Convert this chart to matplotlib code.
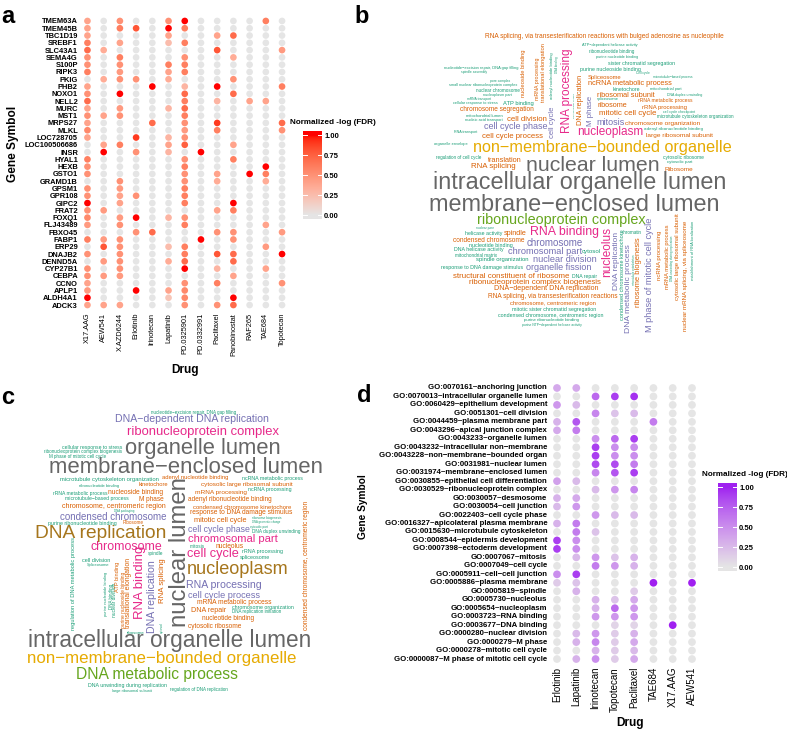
import numpy as np
import matplotlib
matplotlib.use('Agg')
import matplotlib.pyplot as plt
from matplotlib.colors import ListedColormap
from matplotlib.transforms import Bbox

plt.rcParams['font.family'] = ['Liberation Sans', 'DejaVu Sans']

# ---------------- DATA ----------------
drugs_a = ['X17.AAG', 'AEW541', 'X.AZD6244', 'Erlotinib', 'Irinotecan', 'Lapatinib',
           'PD.0325901', 'PD.0332991', 'Paclitaxel', 'Panobinostat', 'RAF265', 'TAE684', 'Topotecan']
genes_a = ['TMEM63A', 'TMEM45B', 'TBC1D19', 'SREBF1', 'SLC43A1', 'SEMA4G', 'S100P', 'RIPK3', 'PKIG',
           'PHB2', 'NOXO1', 'NELL2', 'MURC', 'MST1', 'MRPS27', 'MLKL', 'LOC728705', 'LOC100506686',
           'INSR', 'HYAL1', 'HEXB', 'GSTO1', 'GRAMD1B', 'GPSM1', 'GPR108', 'GIPC2', 'FRAT2', 'FOXQ1',
           'FLJ43489', 'FBXO45', 'FABP1', 'ERP29', 'DNAJB2', 'DENND5A', 'CYP27B1', 'CEBPA', 'CCNO',
           'APLP1', 'ALDH4A1', 'ADCK3']
values_a = [
    [.40, 0, .50, 0, 0, .50, 1.0, 0, 0, 0, 0, .60, 0],
    [.40, 0, .60, .80, 0, 1.0, .60, 0, 0, 0, 0, 0, 0],
    [.40, 0, 0, 0, 0, .40, 0, 0, .40, .70, 0, 0, 0],
    [.60, 0, .40, 0, 0, .25, .60, 0, 0, 0, 0, 0, 0],
    [.70, .35, 0, 0, 0, 0, 0, 0, .80, 0, 0, 0, .45],
    [.50, 0, .60, 0, 0, 0, .50, 0, 0, .35, 0, 0, 0],
    [.50, 0, .50, 0, 0, .60, .60, 0, 0, 0, 0, 0, 0],
    [.60, 0, .45, 0, 0, .40, .60, 0, 0, 0, 0, 0, 0],
    [0, .35, .50, .50, 0, .35, 0, 0, 0, .50, 0, 0, 0],
    [.40, 0, 0, 0, 1.0, 0, .30, 0, 1.0, 0, 0, 0, .60],
    [.50, 0, 1.0, 0, 0, 0, .70, 0, 0, .70, 0, 0, 0],
    [.70, 0, 0, 0, 0, 0, .60, 0, .30, 0, .40, .40, 0],
    [.40, 0, .45, 0, 0, .30, .70, 0, 0, 0, 0, 0, 0],
    [.50, .40, .50, 0, 0, 0, .60, 0, 0, 0, 0, 0, 0],
    [.40, 0, 0, 0, .70, 0, .50, 0, .90, 0, 0, 0, .70],
    [.55, 0, 0, 0, 0, 0, .45, 0, .60, 0, 0, 0, .50],
    [.40, 0, 0, .90, 0, .30, .50, 0, 0, 0, 0, 0, 0],
    [0, .40, .60, 0, 0, .40, .75, 0, 0, .40, 0, 0, 0],
    [0, 1.0, 0, .50, 0, .30, 0, 1.0, 0, 0, 0, 0, 0],
    [.60, 0, 0, 0, 0, 0, .50, 0, 0, .60, 0, 0, 0],
    [.50, 0, 0, 0, 0, 0, .60, 0, 0, 0, 0, 1.0, 0],
    [.50, 0, 0, 0, 0, 0, .50, 0, .40, 0, 1.0, .60, 0],
    [0, 0, .50, 0, 0, 0, .50, 0, .35, 0, 0, .35, 0],
    [.50, 0, .45, 0, 0, 0, .60, 0, 0, 0, 0, 0, 0],
    [.50, 0, .40, .50, 0, 0, .60, 0, 0, 0, 0, 0, 0],
    [1.0, 0, .40, 0, 0, 0, .60, 0, 0, 1.0, 0, 0, 0],
    [.50, .45, 0, 0, 0, 0, 0, 0, .40, .60, 0, 0, 0],
    [.55, 0, .45, 1.0, 0, .30, .50, 0, 0, 0, 0, 0, 0],
    [.45, 0, .50, 0, 0, 0, .60, 0, 0, 0, 0, .40, 0],
    [0, 0, 0, .50, .70, 0, 0, 0, .50, .50, 0, 0, .45],
    [.60, .45, .50, 0, 0, 0, 0, 1.0, 0, .50, 0, 0, 0],
    [0, .80, .50, 0, 0, .25, .60, 0, 0, 0, 0, .45, 0],
    [.50, 0, .50, 0, 0, 0, .60, 0, .80, .70, 0, 0, 1.0],
    [0, .45, .50, 0, 0, .35, .70, 0, 0, .70, 0, 0, 0],
    [.50, 0, .50, 0, 0, 0, 1.0, 0, .30, 0, 0, .40, 0],
    [.50, .45, .45, 0, 0, 0, 0, 0, 0, .40, 0, 0, 0],
    [.40, 0, 0, 0, 0, 0, .50, 0, .60, 0, 0, 0, .50],
    [.45, 0, 0, 1.0, 0, .40, .55, 0, 0, 0, 0, 0, 0],
    [1.0, 0, 0, 0, 0, .20, .55, 0, 0, 1.0, 0, 0, 0],
    [.40, .40, .40, 0, 0, 0, .50, 0, .50, .70, 0, 0, 0],
]

drugs_d = ['Erlotinib', 'Lapatinib', 'Irinotecan', 'Topotecan', 'Paclitaxel', 'TAE684', 'X17.AAG', 'AEW541']
terms_d = ['GO:0070161~anchoring junction', 'GO:0070013~intracellular organelle lumen',
           'GO:0060429~epithelium development', 'GO:0051301~cell division',
           'GO:0044459~plasma membrane part', 'GO:0043296~apical junction complex',
           'GO:0043233~organelle lumen', 'GO:0043232~intracellular non\u2212membrane',
           'GO:0043228~non\u2212membrane\u2212bounded organ', 'GO:0031981~nuclear lumen',
           'GO:0031974~membrane\u2212enclosed lumen', 'GO:0030855~epithelial cell differentiation',
           'GO:0030529~ribonucleoprotein complex', 'GO:0030057~desmosome', 'GO:0030054~cell junction',
           'GO:0022403~cell cycle phase', 'GO:0016327~apicolateral plasma membrane',
           'GO:0015630~microtubule cytoskeleton', 'GO:0008544~epidermis development',
           'GO:0007398~ectoderm development', 'GO:0007067~mitosis', 'GO:0007049~cell cycle',
           'GO:0005911~cell\u2212cell junction', 'GO:0005886~plasma membrane', 'GO:0005819~spindle',
           'GO:0005730~nucleolus', 'GO:0005654~nucleoplasm', 'GO:0003723~RNA binding',
           'GO:0003677~DNA binding', 'GO:0000280~nuclear division', 'GO:0000279~M phase',
           'GO:0000278~mitotic cell cycle', 'GO:0000087~M phase of mitotic cell cycle']
values_d = [
    [.35, .35, 0, 0, 0, 0, 0, 0],
    [0, 0, .70, .90, .95, 0, 0, 0],
    [.45, .25, 0, 0, 0, 0, 0, 0],
    [0, 0, .55, .20, .25, 0, 0, 0],
    [.30, .80, 0, 0, 0, .60, 0, 0],
    [.35, .60, 0, 0, 0, 0, 0, 0],
    [0, 0, .50, .70, .90, 0, 0, 0],
    [0, 0, .90, .50, .50, 0, 0, 0],
    [0, 0, .90, .50, .50, 0, 0, 0],
    [0, 0, .85, .85, .60, 0, 0, 0],
    [0, 0, .55, .80, .90, 0, 0, 0],
    [.40, .25, 0, 0, 0, 0, 0, 0],
    [0, 0, .25, .45, .55, 0, 0, 0],
    [.30, .35, 0, 0, 0, 0, 0, 0],
    [.25, .45, 0, 0, 0, 0, 0, 0],
    [0, 0, .45, .25, .25, 0, 0, 0],
    [.30, .60, 0, 0, 0, 0, 0, 0],
    [0, .60, .20, 0, 0, 0, 0, 0],
    [.90, .50, 0, 0, 0, 0, 0, 0],
    [.90, .50, 0, 0, 0, 0, 0, 0],
    [0, .25, .45, .20, .30, 0, 0, 0],
    [0, 0, .60, .45, .30, 0, 0, 0],
    [.50, .90, 0, 0, 0, 0, 0, 0],
    [.15, .20, 0, 0, 0, 1.0, 0, 1.0],
    [0, .30, 0, 0, .15, 0, 0, 0],
    [0, 0, .30, .20, .35, 0, 0, 0],
    [0, 0, .30, .70, .45, 0, 0, 0],
    [0, 0, .45, .45, .45, 0, 0, 0],
    [0, 0, 0, .10, .10, 0, 1.0, 0],
    [0, .25, .45, .15, .30, 0, 0, 0],
    [0, .30, .55, .15, .35, 0, 0, 0],
    [0, 0, .30, .15, .25, 0, 0, 0],
    [0, .30, .50, .15, .35, 0, 0, 0],
]
cbar_ticks = [0.0, 0.25, 0.5, 0.75, 1.0]

M_ = '\u2212'
# word cloud b: words and colour groups
b_words = [
    'RNA splicing, via transesterification reactions with bulged adenosine as nucleophile',
    'ATP' + M_ + 'dependent helicase activity', 'ribonucleotide binding', 'purine nucleotide binding',
    'sister chromatid segregation', 'purine nucleoside binding', 'Cell cycle',
    'microtubule' + M_ + 'based process', 'Spliceosome', 'ncRNA metabolic process', 'kinetochore',
    'mitochondrial part', 'ribosomal subunit', 'DNA duplex unwinding', 'spliceosome',
    'rRNA metabolic process', 'ribosome', 'rRNA processing', 'mitotic cell cycle',
    'cell cycle checkpoint', 'microtubule cytoskeleton organization', 'mitosis',
    'chromosome organization', 'adenyl ribonucleotide binding', 'large ribosomal subunit',
    'nucleoplasm', 'M phase', 'DNA replication', 'DNA geometric change', 'RNA processing',
    'cell cycle', 'adenyl nucleotide binding', 'DNA binding', 'mRNA processing',
    'translational elongation', 'nucleoside binding', 'nucleotide' + M_ + 'excision repair, DNA gap filling',
    'spindle assembly', 'pore complex', 'small nuclear ribonucleoprotein complex', 'nuclear chromosome',
    'nucleoplasm part', 'mRNA transport', 'cellular response to stress', 'ATP binding',
    'chromosome segregation', 'mitochondrial lumen', 'nucleic acid transport', 'cell division',
    'cell cycle phase', 'RNA transport', 'cell cycle process', 'organelle envelope',
    'non' + M_ + 'membrane' + M_ + 'bounded organelle', 'regulation of cell cycle', 'translation',
    'RNA splicing', 'nuclear lumen', 'cytosolic ribosome', 'cytosolic part', 'Ribosome',
    'intracellular organelle lumen', 'membrane' + M_ + 'enclosed lumen', 'ribonucleoprotein complex',
    'nuclear pore', 'helicase activity', 'spindle', 'RNA binding', 'condensed chromosome',
    'nucleotide binding', 'DNA helicase activity', 'chromosome', 'mitochondrial matrix',
    'chromosomal part', 'cytosol', 'spindle organization', 'nuclear division',
    'response to DNA damage stimulus', 'organelle fission', 'nucleolus',
    'structural constituent of ribosome', 'DNA repair', 'ribonucleoprotein complex biogenesis',
    'DNA' + M_ + 'dependent DNA replication', 'RNA splicing, via transesterification reactions',
    'chromosome, centromeric region', 'mitotic sister chromatid segregation',
    'condensed chromosome, centromeric region', 'purine ribonucleotide binding',
    'purine NTP' + M_ + 'dependent helicase activity', 'DNA replication',
    'condensed chromosome kinetochore', 'DNA metabolic process', 'microtubule cytoskeleton',
    'ribosome biogenesis', 'M phase of mitotic cell cycle', 'ncRNA processing',
    'mRNA metabolic process', 'DNA unwinding during replication', 'cytosolic large ribosomal subunit',
    'nuclear mRNA splicing, via spliceosome', 'establishment of RNA localization', 'chromatin']
b_groups = ['O', 'T', 'T', 'T', 'T', 'T', 'T', 'T', 'O', 'O', 'T', 'T', 'O', 'T', 'T', 'O', 'O', 'O', 'O',
            'T', 'T', 'P', 'O', 'T', 'O', 'K', 'P', 'O', 'T', 'K', 'P', 'T', 'T', 'O', 'O', 'O', 'T', 'T',
            'T', 'T', 'T', 'T', 'T', 'T', 'T', 'O', 'T', 'T', 'O', 'P', 'T', 'O', 'T', 'Y', 'T', 'O', 'O',
            'R', 'T', 'T', 'O', 'R', 'R', 'G', 'T', 'T', 'O', 'K', 'O', 'T', 'T', 'P', 'T', 'P', 'T', 'T',
            'P', 'T', 'P', 'K', 'O', 'T', 'O', 'O', 'O', 'O', 'T', 'T', 'T', 'T', 'P', 'T', 'P', 'T', 'O',
            'P', 'O', 'O', 'T', 'O', 'O', 'T', 'T']

# word cloud c: words and colour groups
c_words = [
    'nucleotide' + M_ + 'excision repair, DNA gap filling', 'DNA' + M_ + 'dependent DNA replication',
    'ribonucleoprotein complex', 'cellular response to stress', 'ribonucleoprotein complex biogenesis',
    'M phase of mitotic cell cycle', 'organelle lumen', 'membrane' + M_ + 'enclosed lumen',
    'adenyl nucleotide binding', 'microtubule cytoskeleton organization', 'kinetochore',
    'ribonucleotide binding', 'ncRNA metabolic process', 'cytosolic large ribosomal subunit',
    'rRNA metabolic process', 'nucleoside binding', 'mRNA processing', 'ncRNA processing',
    'microtubule' + M_ + 'based process', 'M phase', 'adenyl ribonucleotide binding',
    'chromosome, centromeric region', 'DNA packaging', 'condensed chromosome kinetochore',
    'response to DNA damage stimulus', 'condensed chromosome', 'purine ribonucleotide binding',
    'Ribosome', 'mitotic cell cycle', 'ribosome biogenesis', 'DNA geometric change', 'cytosolic part',
    'DNA duplex unwinding', 'cell cycle phase', 'DNA replication', 'chromosomal part', 'nuclear lumen',
    'mitosis', 'nucleolus', 'chromosome', 'cell cycle', 'rRNA processing', 'spliceosome', 'spindle',
    'nucleoplasm', 'RNA processing', 'cell cycle process', 'mRNA metabolic process',
    'chromosome organization', 'DNA replication initiation', 'DNA repair', 'nucleotide binding',
    'cytosolic ribosome', 'condensed chromosome, centromeric region', 'intracellular organelle lumen',
    'non' + M_ + 'membrane' + M_ + 'bounded organelle', 'DNA metabolic process',
    'DNA unwinding during replication', 'large ribosomal subunit', 'regulation of DNA replication',
    'cell division', 'Spliceosome', 'regulation of DNA metabolic process', 'purine nucleotide binding',
    'DNA binding', 'nuclear division', 'ATP binding', 'purine nucleoside binding',
    'translational elongation', 'RNA binding', 'ribosome', 'DNA replication', 'RNA splicing', 'cytosol']
c_groups = ['T', 'P', 'K', 'T', 'T', 'T', 'R', 'R', 'O', 'T', 'O', 'T', 'T', 'O', 'T', 'O', 'O', 'T', 'T',
            'O', 'O', 'O', 'T', 'O', 'O', 'P', 'T', 'O', 'O', 'T', 'T', 'T', 'T', 'P', 'B', 'K', 'R', 'T',
            'O', 'K', 'K', 'T', 'T', 'T', 'B', 'P', 'P', 'O', 'T', 'T', 'O', 'O', 'O', 'O', 'R', 'Y', 'G',
            'T', 'T', 'T', 'T', 'T', 'T', 'T', 'T', 'T', 'O', 'O', 'O', 'K', 'T', 'P', 'O', 'T']

# ---------------- STYLE / LAYOUT ----------------
palette = {'T': '#1B9E77', 'O': '#D95F02', 'P': '#7570B3', 'K': '#E7298A',
           'G': '#66A61E', 'Y': '#E6AB02', 'B': '#A6761D', 'R': '#666666'}

# (center x px, center y px, length px, rotation)
b_layout = [
    (604, 36, 242, 0), (610, 45, 56, 0), (612, 51, 45, 0), (617, 57, 42, 0), (642, 63, 66, 0),
    (610, 69, 60, 0), (643, 73, 14, 0), (673, 77, 40, 0), (605, 77, 34, 0), (630, 83, 84, 0),
    (626, 89, 27, 0), (666, 89, 32, 0), (626, 95, 58, 0), (685, 95, 36, 0), (608, 99, 22, 0),
    (665, 100, 54, 0), (612, 105, 30, 0), (664, 107, 45, 0), (628, 113, 57, 0), (679, 112, 32, 0),
    (695, 116, 76, 0), (611, 122, 28, 0), (663, 123, 75, 0), (674, 129, 58, 0), (680, 135, 67, 0),
    (610, 132, 66, 0), (591, 111, 30, 90), (580, 100, 50, 90), (574, 105, 24, 90), (567, 91, 84, 90),
    (553, 122, 31, 90), (552, 76, 48, 90), (557, 65, 16, 90), (537, 79, 42, 90), (543, 73, 60, 90),
    (524, 73, 48, 90), (481, 68, 75, 0), (474, 72, 26, 0), (500, 81, 20, 0), (483, 85, 69, 0),
    (498, 90, 43, 0), (497, 95, 29, 0), (479, 99, 24, 0), (475, 103, 45, 0), (518, 103, 31, 0),
    (497, 109, 74, 0), (484, 116, 38, 0), (484, 120, 38, 0), (527, 119, 40, 0), (516, 126, 64, 0),
    (466, 132, 24, 0), (513, 136, 61, 0), (451, 144, 34, 0), (602, 147, 260, 0), (459, 157, 45, 0),
    (505, 160, 34, 0), (493, 166, 45, 0), (593, 165, 134, 0), (683, 157, 40, 0), (680, 162, 26, 0),
    (679, 169, 29, 0), (580, 182, 295, 0), (574, 205, 292, 0), (561, 220, 168, 0), (485, 228, 18, 0),
    (484, 233, 37, 0), (515, 233, 23, 0), (565, 232, 69, 0), (489, 240, 72, 0), (491, 245, 44, 0),
    (479, 249, 49, 0), (555, 243, 57, 0), (476, 255, 42, 0), (545, 251, 74, 0), (591, 251, 19, 0),
    (502, 259, 52, 0), (565, 259, 63, 0), (482, 267, 81, 0), (559, 267, 65, 0), (607, 252, 50, 90),
    (511, 276, 116, 0), (585, 276, 25, 0), (535, 282, 132, 0), (546, 288, 105, 0), (553, 296, 131, 0),
    (553, 303, 87, 0), (554, 309, 82, 0), (551, 315, 104, 0), (551, 320, 57, 0), (552, 325, 60, 0),
    (616, 261, 58, 90), (622, 275, 90, 90), (628, 289, 88, 90), (634, 270, 30, 90), (638, 272, 69, 90),
    (649, 275, 114, 90), (659, 255, 50, 90), (667, 257, 65, 90), (672, 258, 45, 90), (678, 257, 87, 90),
    (685, 276, 112, 90), (693, 250, 60, 90), (632, 232, 20, 0)]

c_layout = [
    (194, 412, 85, 0), (192, 419, 154, 0), (203, 432, 152, 0), (92, 447, 60, 0), (83, 451, 77, 0),
    (78, 456, 57, 0), (203, 448, 157, 0), (186, 467, 275, 0), (195, 477, 66, 0), (109, 479, 98, 0),
    (153, 484, 30, 0), (99, 486, 42, 0), (272, 478, 60, 0), (247, 484, 93, 0), (80, 493, 54, 0),
    (136, 492, 55, 0), (221, 492, 52, 0), (270, 489, 43, 0), (97, 498, 63, 0), (151, 499, 25, 0),
    (230, 499, 85, 0), (114, 506, 105, 0), (124, 511, 20, 0), (242, 507, 99, 0), (241, 512, 102, 0),
    (113, 517, 107, 0), (82, 523, 67, 0), (133, 523, 21, 0), (220, 521, 54, 0), (267, 518, 30, 0),
    (266, 522, 28, 0), (259, 527, 18, 0), (276, 531, 48, 0), (219, 530, 62, 0), (101, 533, 132, 0),
    (233, 539, 90, 0), (180, 552, 151, 90), (197, 546, 15, 0), (230, 547, 28, 0), (126, 547, 72, 0),
    (213, 554, 52, 0), (263, 552, 40, 0), (255, 557, 30, 0), (156, 553, 15, 0), (238, 570, 102, 0),
    (224, 585, 75, 0), (224, 596, 72, 0), (234, 603, 74, 0), (263, 608, 60, 0), (257, 612, 49, 0),
    (209, 611, 35, 0), (228, 618, 53, 0), (215, 627, 54, 0), (307, 565, 130, 90), (170, 641, 285, 0),
    (162, 659, 270, 0), (157, 675, 163, 0), (127, 686, 78, 0), (132, 691, 40, 0), (199, 690, 58, 0),
    (96, 561, 28, 0), (98, 565, 23, 0), (74, 584, 93, 90), (106, 594, 45, 90), (111, 596, 25, 90),
    (115, 600, 34, 90), (117, 577, 30, 90), (123, 600, 56, 90), (128, 593, 70, 90), (140, 582, 73, 90),
    (136, 633, 18, 0), (152, 597, 73, 90), (162, 581, 45, 90), (162, 628, 11, 90)]

W, H = 787, 729
fig = plt.figure(figsize=(W / 100, H / 100), dpi=100)


def box(x0, y0, x1, y1):
    return [x0 / W, 1 - y1 / H, (x1 - x0) / W, (y1 - y0) / H]


# Lab-interpolated gradient (like ggplot2 scale_colour_gradient)
_M = np.array([[0.4124564, 0.3575761, 0.1804375],
               [0.2126729, 0.7151522, 0.0721750],
               [0.0193339, 0.1191920, 0.9503041]])
_Mi = np.linalg.inv(_M)
_wp = _M @ np.ones(3)


def _hex(h):
    return np.array([int(h[i:i + 2], 16) for i in (1, 3, 5)]) / 255.0


def _rgb2lab(rgb):
    lin = np.where(rgb <= 0.04045, rgb / 12.92, ((rgb + 0.055) / 1.055) ** 2.4)
    xyz = (_M @ lin) / _wp
    d = 6 / 29
    f = np.where(xyz > d ** 3, np.cbrt(xyz), xyz / (3 * d * d) + 4 / 29)
    return np.array([116 * f[1] - 16, 500 * (f[0] - f[1]), 200 * (f[1] - f[2])])


def _lab2rgb(lab):
    L, a, b = lab
    fy = (L + 16) / 116
    f = np.array([fy + a / 500, fy, fy - b / 200])
    d = 6 / 29
    xyz = np.where(f > d, f ** 3, 3 * d * d * (f - 4 / 29)) * _wp
    lin = np.clip(_Mi @ xyz, 0, 1)
    rgb = np.where(lin <= 0.0031308, 12.92 * lin, 1.055 * lin ** (1 / 2.4) - 0.055)
    return np.clip(rgb, 0, 1)


def lab_cmap(c0, c1, n=256):
    l0, l1 = _rgb2lab(_hex(c0)), _rgb2lab(_hex(c1))
    return ListedColormap([_lab2rgb(l0 + t * (l1 - l0)) for t in np.linspace(0, 1, n)])


cmap_red = lab_cmap('#E5E5E5', '#FF0000')
cmap_pur = lab_cmap('#E5E5E5', '#A020F0')

# text overlay axis (pixel coordinates)
ax_t = fig.add_axes([0, 0, 1, 1])
ax_t.set_xlim(0, W)
ax_t.set_ylim(H, 0)
ax_t.axis('off')
renderer = fig.canvas.get_renderer()


def cloud(words, groups, layout):
    for w, g, (x, y, L, rot) in zip(words, groups, layout):
        t = ax_t.text(x, y, w, fontsize=10, ha='center', va='center', color=palette[g],
                      rotation=0, rotation_mode='anchor')
        bb = t.get_window_extent(renderer=renderer)
        t.set_fontsize(10 * L / bb.width)
        t.set_rotation(rot)


cloud(b_words, b_groups, b_layout)
cloud(c_words, c_groups, c_layout)


def dotplot(rect, rows, cols, vals, cmap, s, xlim, ylim):
    ax = fig.add_axes(rect)
    vals = np.array(vals)
    n = len(rows)
    xs, ys = np.meshgrid(np.arange(1, len(cols) + 1), n - np.arange(n))
    ax.scatter(xs.ravel(), ys.ravel(), c=vals.ravel(), cmap=cmap, vmin=0, vmax=1, s=s, linewidths=0)
    ax.set_xlim(*xlim)
    ax.set_ylim(*ylim)
    for sp in ax.spines.values():
        sp.set_visible(False)
    ax.set_facecolor('none')
    return ax


def colorbar(rect, cmap, title_xy):
    cax = fig.add_axes(rect)
    grad = np.linspace(-0.05, 1.05, 256)[:, None]
    cax.imshow(grad, aspect='auto', cmap=cmap, vmin=0, vmax=1, origin='lower',
               extent=[0, 1, -0.05, 1.05])
    cax.set_xlim(0, 1)
    cax.set_ylim(-0.05, 1.05)
    for v in cbar_ticks:
        cax.plot([0, 0.2], [v, v], color='white', lw=0.7)
        cax.plot([0.8, 1], [v, v], color='white', lw=0.7)
    cax.set_xticks([])
    cax.yaxis.tick_right()
    cax.set_yticks(cbar_ticks)
    cax.set_yticklabels(['%.2f' % v for v in cbar_ticks], fontweight='bold')
    cax.tick_params(length=0, pad=1.5, labelsize=5.5)
    for sp in cax.spines.values():
        sp.set_visible(False)
    fig.text(title_xy[0] / W, 1 - title_xy[1] / H, 'Normalized -log (FDR)', fontsize=5.9,
             fontweight='bold', ha='left', va='center')


# ---- panel a ----
ax_a = dotplot(box(80, 16.6, 289.5, 309.4), genes_a, drugs_a, values_a, cmap_red, 23,
               (0.54, 13.46), (0.4, len(genes_a) + 0.6))
ax_a.set_xticks(np.arange(1, len(drugs_a) + 1))
ax_a.set_xticklabels(drugs_a, rotation=90, fontsize=5.3)
ax_a.set_yticks(len(genes_a) - np.arange(len(genes_a)))
ax_a.set_yticklabels(genes_a, fontsize=5.4, fontweight='bold')
ax_a.tick_params(length=0, pad=1.5)
ax_a.tick_params(axis='x', pad=2.5)
fig.text(185 / W, 1 - 370 / H, 'Drug', fontsize=8.6, fontweight='bold', ha='center', va='center')
fig.text(13 / W, 1 - 144 / H, 'Gene Symbol', fontsize=8.6, fontweight='bold', rotation=90,
         ha='center', va='center')
colorbar(box(303, 131, 322, 219), cmap_red, (290, 122))

# ---- panel d ----
ax_d = dotplot(box(549, 382.9, 700, 664.1), terms_d, drugs_d, values_d, cmap_pur, 31,
               (0.585, 8.415), (0.4, len(terms_d) + 0.6))
ax_d.set_xticks(np.arange(1, len(drugs_d) + 1))
ax_d.set_xticklabels(drugs_d, rotation=90, fontsize=7)
ax_d.set_yticks([])
ax_d.tick_params(length=0, pad=2)
clip = Bbox.from_extents(378, 0, W, H)
for i, term in enumerate(terms_d):
    t = ax_d.text(-0.012, len(terms_d) - i, term, transform=ax_d.get_yaxis_transform(),
                  ha='right', va='center', fontsize=5.6, fontweight='bold')
    t.set_clip_on(True)
    t.set_clip_box(clip)
fig.text(630 / W, 1 - 723 / H, 'Drug', fontsize=8.6, fontweight='bold', ha='center', va='center')
fig.text(363 / W, 1 - 507 / H, 'Gene Symbol', fontsize=7.3, fontweight='bold', rotation=90,
         ha='center', va='center')
colorbar(box(718, 483, 737, 571), cmap_pur, (702, 475))

# ---- panel letters ----
for letter, (x, y) in zip('abcd', [(8, 23), (362, 23), (8, 404), (364, 402)]):
    fig.text(x / W, 1 - y / H, letter, fontsize=17, fontweight='bold', ha='center', va='baseline')

fig.savefig('out.png', dpi=100, facecolor='white')
